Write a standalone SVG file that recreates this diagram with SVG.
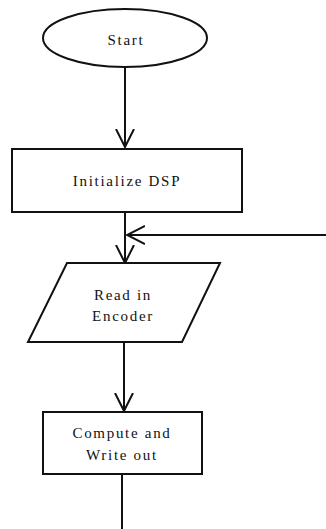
<svg xmlns="http://www.w3.org/2000/svg" width="326" height="529" viewBox="0 0 326 529">
  <style>
    .shape { fill: #fff; stroke: #111; stroke-width: 2; }
    .link { fill: none; stroke: #111; stroke-width: 2; }
    .label { font-family: 'Liberation Serif', 'Times New Roman', serif; font-size: 15px; fill: #111; text-anchor: middle; letter-spacing: 1.7px; }
  </style>
  <defs>
    <marker id="vhead" viewBox="0 0 20 20" refX="18" refY="10" markerWidth="20" markerHeight="20" markerUnits="userSpaceOnUse" orient="auto">
      <path d="M0,1 L18,10 L0,19" fill="none" stroke="#111" stroke-width="2"/>
    </marker>
  </defs>

  <g id="connectors">
    <line class="link" x1="125" y1="67" x2="125" y2="147" marker-end="url(#vhead)"/>
    <line class="link" x1="125" y1="212" x2="125" y2="263" marker-end="url(#vhead)"/>
    <line class="link" x1="326" y1="235" x2="127" y2="235" marker-end="url(#vhead)"/>
    <line class="link" x1="124" y1="342" x2="124" y2="411" marker-end="url(#vhead)"/>
    <line class="link" x1="122" y1="474" x2="122" y2="529"/>
  </g>

  <g id="start">
    <ellipse class="shape" cx="125" cy="38" rx="82" ry="29"/>
    <text class="label" x="126" y="45">Start</text>
  </g>

  <g id="init-dsp">
    <rect class="shape" x="12" y="149" width="230" height="63"/>
    <text class="label" x="127" y="186">Initialize DSP</text>
  </g>

  <g id="read-encoder">
    <polygon class="shape" points="67,263 220,263 182,342 28,342"/>
    <text class="label" x="123" y="300">Read in</text>
    <text class="label" x="123" y="321">Encoder</text>
  </g>

  <g id="compute-write">
    <rect class="shape" x="43" y="412" width="159" height="62"/>
    <text class="label" x="122" y="438">Compute and</text>
    <text class="label" x="122" y="460">Write out</text>
  </g>
</svg>
